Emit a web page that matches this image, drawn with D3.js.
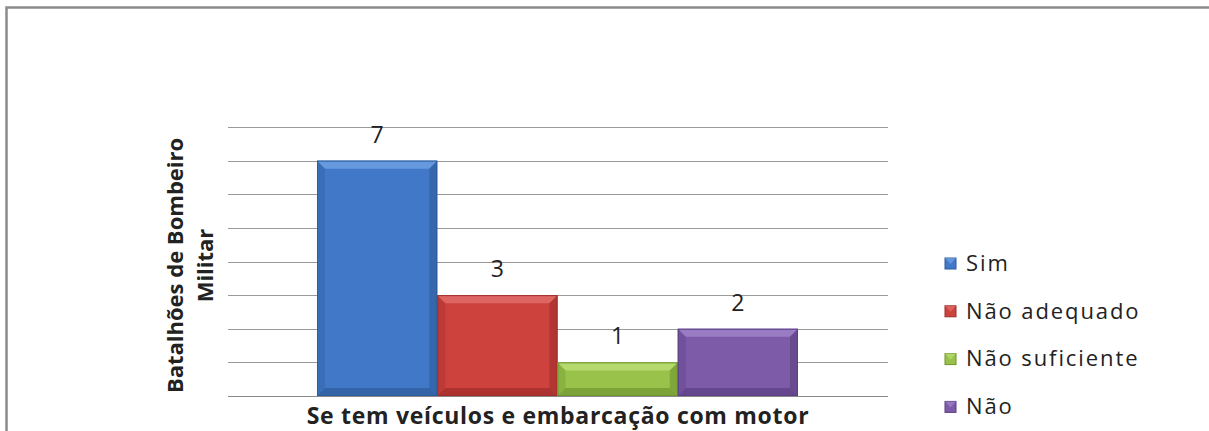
<!DOCTYPE html>
<html>
<head>
<meta charset="utf-8">
<script src="https://cdn.jsdelivr.net/npm/d3@7"></script>
<style>
  body { margin: 0; background: #fff; }
  svg { display: block; }
  text { font-family: "Open Sans", "Noto Sans", sans-serif; }
</style>
</head>
<body>
<div id="chart"></div>
<script>
// data
const categories = ['Sim', 'Não adequado', 'Não suficiente', 'Não'];
const values = [7, 3, 1, 2];
const colors = ['#4179C8', '#CE423D', '#99C24A', '#7D5BA9'];
const darks = ['#2E5B9A', '#9E2D2A', '#6F9430', '#5B3F82'];
const lights = ['#6A9CE0', '#E06A66', '#B8DB72', '#9C7FC6'];
const xTitle = 'Se tem veículos e embarcação com motor';
const yTitle = ['Batalhões de Bombeiro', 'Militar'];

const W = 1209, H = 431;
const svg = d3.select('#chart').append('svg').attr('width', W).attr('height', H);

// outer frame (only top + left visible)
svg.append('path')
  .attr('d', `M6.5,${H} V7.5 H${W}`)
  .attr('fill', 'none').attr('stroke', '#8c8c8c').attr('stroke-width', 2.5);

const plot = { left: 228, right: 888, top: 127, bottom: 396 };

const y = d3.scaleLinear().domain([0, 8]).range([plot.bottom, plot.top]);
// bars sit side by side as one group in the middle of the plot
const x = d3.scaleBand().domain(categories).range([317, 798]).padding(0);

// gridlines
svg.append('g')
  .selectAll('line')
  .data(y.ticks(8))
  .enter().append('line')
  .attr('x1', plot.left).attr('x2', plot.right)
  .attr('y1', d => Math.round(y(d)) + 0.5).attr('y2', d => Math.round(y(d)) + 0.5)
  .attr('stroke', d => d === 0 ? '#8a8a8a' : '#9a9a9a')
  .attr('stroke-width', 1);

// bars with a bevel look
const bev = 8;
const bars = svg.append('g').selectAll('g')
  .data(values.map((v, i) => ({ v, i, c: categories[i] })))
  .enter().append('g');

bars.append('rect')
  .attr('x', d => x(d.c)).attr('y', d => y(d.v))
  .attr('width', x.bandwidth()).attr('height', d => y(0) - y(d.v))
  .attr('fill', d => colors[d.i]);

function facet(d, side) {
  const x0 = x(d.c), x1 = x0 + x.bandwidth(), y0 = y(d.v), y1 = y(0);
  const b = Math.min(bev, (y1 - y0) / 2);
  if (side === 'top') return [[x0, y0], [x1, y0], [x1 - b, y0 + b], [x0 + b, y0 + b]];
  if (side === 'bottom') return [[x0, y1], [x1, y1], [x1 - b, y1 - b], [x0 + b, y1 - b]];
  if (side === 'left') return [[x0, y0], [x0 + b, y0 + b], [x0 + b, y1 - b], [x0, y1]];
  return [[x1, y0], [x1 - b, y0 + b], [x1 - b, y1 - b], [x1, y1]];
}
const line = d3.line();
[['top', lights, 0.9], ['left', darks, 0.35], ['right', darks, 0.6], ['bottom', darks, 0.7]].forEach(([side, pal, op]) => {
  bars.append('path')
    .attr('d', d => line(facet(d, side)) + 'Z')
    .attr('fill', d => pal[d.i])
    .attr('opacity', op);
});
bars.append('rect')
  .attr('x', d => x(d.c) + 0.5).attr('y', d => y(d.v) + 0.5)
  .attr('width', x.bandwidth() - 1).attr('height', d => y(0) - y(d.v) - 1)
  .attr('fill', 'none').attr('stroke', d => darks[d.i]).attr('stroke-width', 1);

// value labels
bars.append('text')
  .attr('x', d => x(d.c) + x.bandwidth() / 2)
  .attr('y', d => y(d.v) - 18)
  .attr('text-anchor', 'middle')
  .attr('font-size', 23)
  .attr('fill', '#222')
  .text(d => d.v);

// axis titles
svg.append('text')
  .attr('x', (plot.left + plot.right) / 2).attr('y', 424)
  .attr('text-anchor', 'middle')
  .attr('font-size', 23).attr('font-weight', 'bold').attr('fill', '#222')
  .attr('letter-spacing', 0.7)
  .text(xTitle);

const yt = svg.append('text')
  .attr('transform', `translate(183,${(plot.top + plot.bottom) / 2 + 4}) rotate(-90)`)
  .attr('text-anchor', 'middle')
  .attr('font-size', 22).attr('font-weight', 'bold').attr('fill', '#222');
yt.selectAll('tspan').data(yTitle).enter().append('tspan')
  .attr('x', 0).attr('dy', (d, i) => i === 0 ? 0 : 30)
  .text(d => d);

// legend
const legend = svg.append('g').selectAll('g')
  .data(categories)
  .enter().append('g')
  .attr('transform', (d, i) => `translate(945,${263 + i * 47.8})`);
legend.append('rect')
  .attr('x', 0).attr('y', -5).attr('width', 11).attr('height', 11)
  .attr('fill', (d, i) => colors[i]).attr('stroke', (d, i) => darks[i]).attr('stroke-width', 1);
legend.append('path')
  .attr('d', 'M0,-5 L11,-5 L5.5,1 Z')
  .attr('fill', (d, i) => lights[i]).attr('opacity', 0.8);
legend.append('text')
  .attr('x', 21).attr('y', 0).attr('dy', '0.35em')
  .attr('font-size', 22).attr('fill', '#222')
  .attr('letter-spacing', 1.9)
  .text(d => d);
</script>
</body>
</html>
